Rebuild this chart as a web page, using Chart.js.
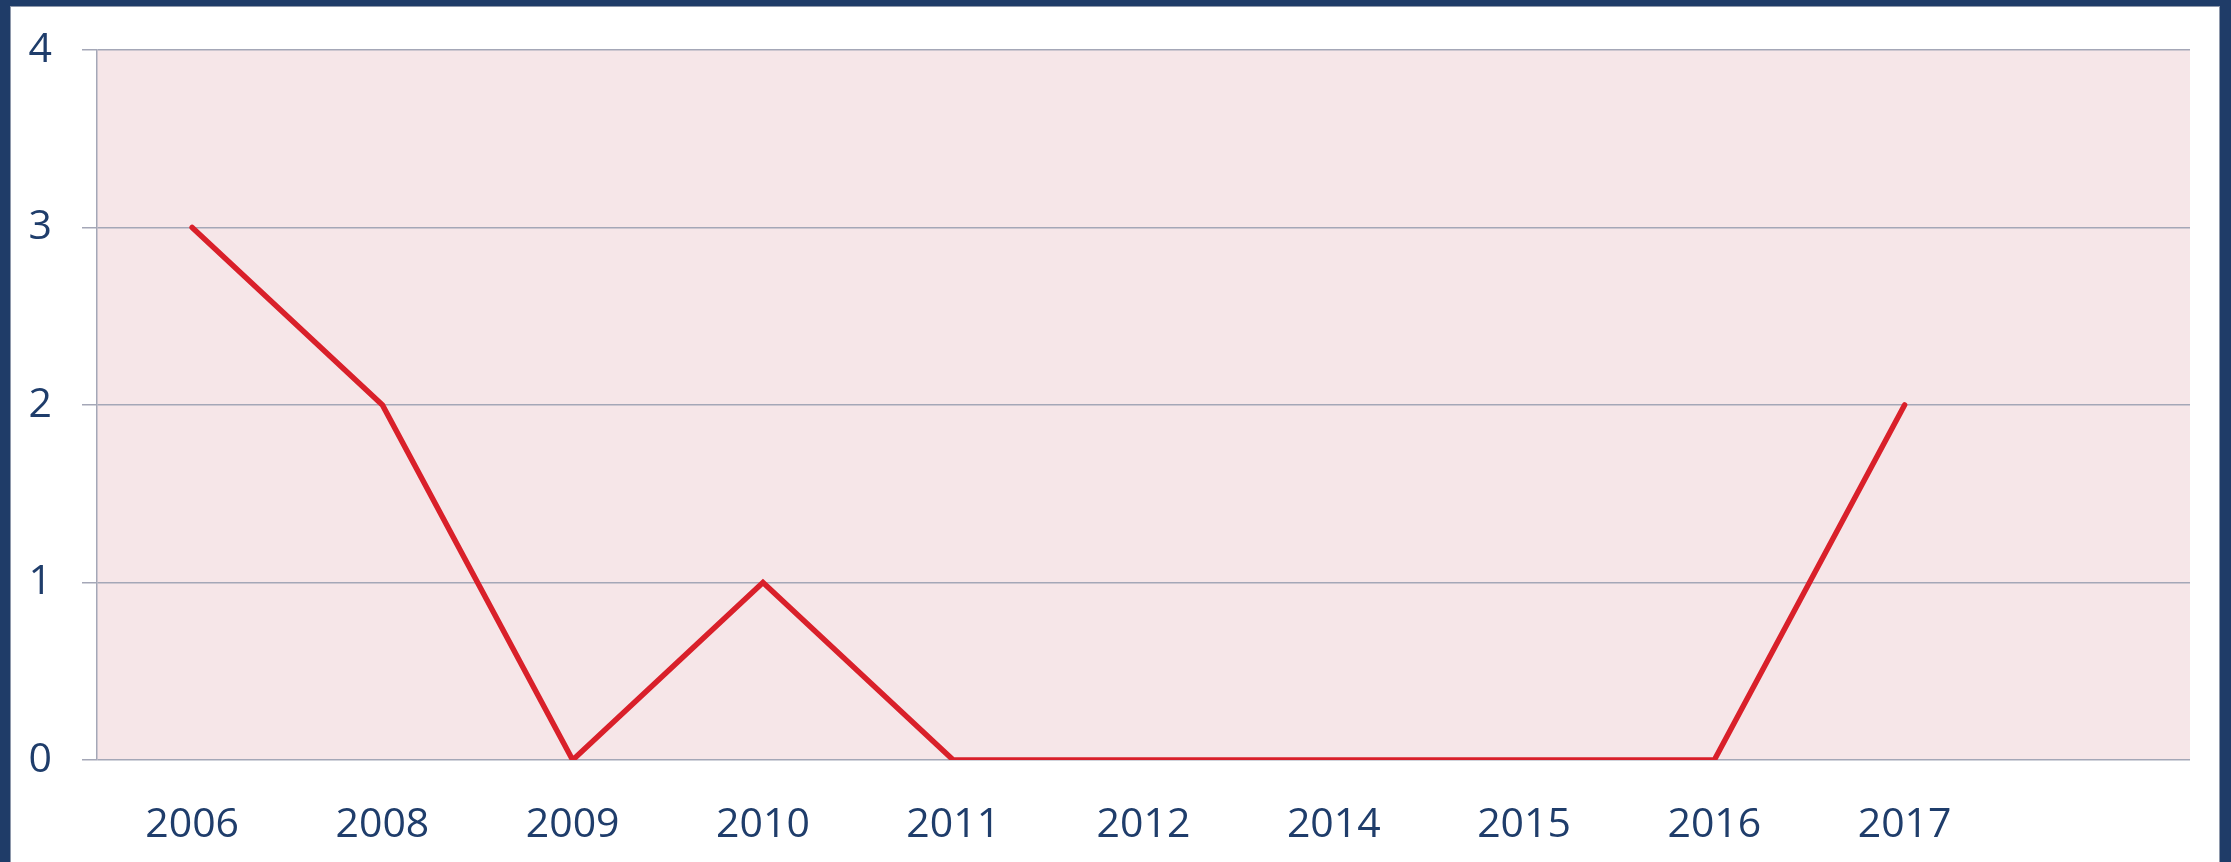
<!DOCTYPE html>
<html>
<head>
<meta charset="utf-8">
<script src="https://cdn.jsdelivr.net/npm/chart.js@4/dist/chart.umd.min.js"></script>
<style>
  html, body { margin: 0; padding: 0; width: 2231px; height: 862px; background: #1f3c68; overflow: hidden; }
  #frame { position: absolute; left: 10px; top: 6px; width: 2208px; height: 856px; background: #ffffff; border: 1px solid #8e98ab; border-bottom: none; }
  #c { display: block; }
</style>
</head>
<body>
<div id="frame"><canvas id="c" width="2208" height="856"></canvas></div>
<script>
const categories = ["2006", "2008", "2009", "2010", "2011", "2012", "2014", "2015", "2016", "2017", ""];
const seriesValues = [3, 2, 0, 1, 0, 0, 0, 0, 0, 2, null];
const yTicks = [0, 1, 2, 3, 4];

const textColor = '#1f3d6b';
const font = { family: "'Open Sans', 'Noto Sans', sans-serif", size: 41 };

const areaBg = {
  id: 'areaBg',
  beforeDraw(chart) {
    const { ctx, chartArea: a } = chart;
    ctx.save();
    ctx.fillStyle = '#f6e6e8';
    ctx.fillRect(a.left, a.top, a.right - a.left, a.bottom - a.top);
    ctx.restore();
  }
};

new Chart(document.getElementById('c'), {
  type: 'line',
  data: {
    labels: categories,
    datasets: [{
      data: seriesValues,
      borderColor: '#d9202a',
      borderWidth: 5.5,
      pointRadius: 0,
      pointHoverRadius: 0,
      tension: 0,
      fill: false,
      borderCapStyle: 'round',
      borderJoinStyle: 'miter'
    }]
  },
  options: {
    responsive: false,
    animation: false,
    events: [],
    layout: { padding: { top: 43, right: 29, left: 0, bottom: 0 } },
    plugins: { legend: { display: false }, tooltip: { enabled: false } },
    scales: {
      x: {
        offset: true,
        grid: { display: false, drawTicks: false },
        border: { display: false },
        ticks: { color: textColor, font: font, padding: 41, maxRotation: 0, autoSkip: false },
        afterFit(scale) { scale.height = 103; scale.paddingLeft = 0; scale.paddingRight = 0; }
      },
      y: {
        min: 0,
        max: 4,
        afterBuildTicks(scale) { scale.ticks = yTicks.map(v => ({ value: v })); },
        grid: { color: '#a4a7b7', lineWidth: 1.5, tickLength: 15, drawTicks: true },
        border: { display: true, color: '#a4a7b7', width: 1.5 },
        ticks: { color: textColor, font: font, padding: 30 },
        afterFit(scale) { scale.width = 86; scale.paddingTop = 0; scale.paddingBottom = 0; }
      }
    }
  },
  plugins: [areaBg]
});
</script>
</body>
</html>
